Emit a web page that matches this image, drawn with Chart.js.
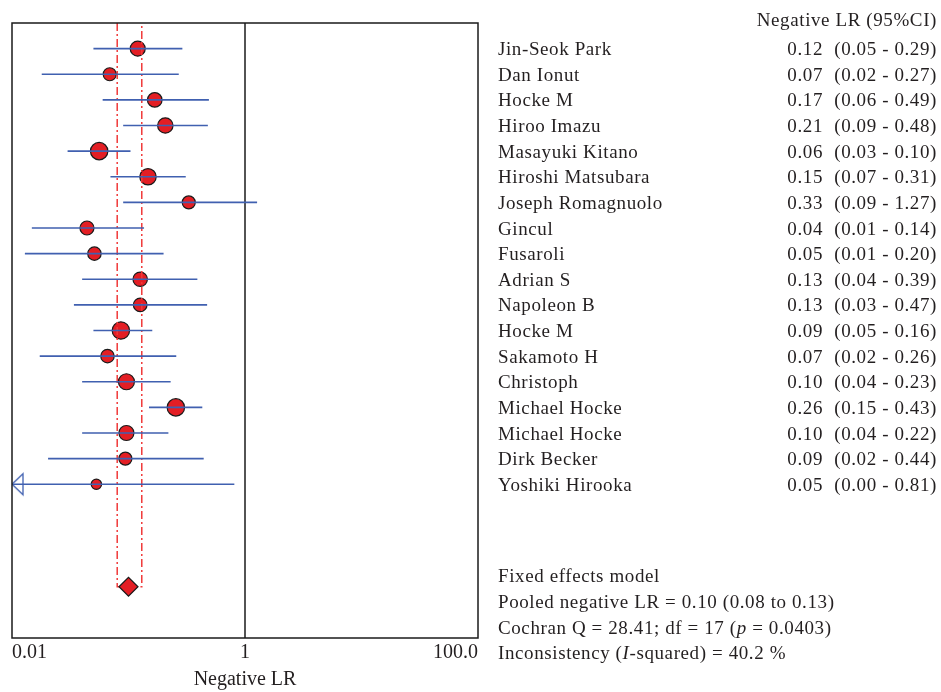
<!DOCTYPE html>
<html>
<head>
<meta charset="utf-8">
<script src="https://cdn.jsdelivr.net/npm/chart.js@4.4.1/dist/chart.umd.min.js"></script>
<style>
  html, body { margin: 0; padding: 0; background: #ffffff; }
  #wrap { width: 941px; height: 692px; }
</style>
</head>
<body>
<div id="wrap"><canvas id="c" width="941" height="692"></canvas></div>
<script>
// ---------------- DATA ----------------
const studies = ["Jin-Seok Park","Dan Ionut","Hocke M","Hiroo Imazu","Masayuki Kitano","Hiroshi Matsubara",
  "Joseph Romagnuolo","Gincul","Fusaroli","Adrian S","Napoleon B","Hocke M","Sakamoto H","Christoph",
  "Michael Hocke","Michael Hocke","Dirk Becker","Yoshiki Hirooka"];
const estimate = [0.12,0.069,0.168,0.207,0.056,0.147,0.329,0.044,0.051,0.126,0.126,0.086,0.066,0.096,0.255,0.096,0.094,0.053];
const lower    = [0.05,0.018,0.06,0.09,0.030,0.07,0.09,0.0148,0.0129,0.04,0.034,0.05,0.0173,0.04,0.15,0.04,0.0204,0.004];
const upper    = [0.29,0.27,0.49,0.48,0.104,0.31,1.27,0.136,0.20,0.39,0.473,0.16,0.257,0.23,0.43,0.22,0.442,0.81];
const studyWeights = [7.5,6.5,7.3,7.7,8.7,8.2,6.5,7.0,6.7,7.2,6.8,8.7,6.7,8.0,8.7,7.5,6.5,5.2];
const pooledEst = 0.10, pooledLo = 0.08, pooledHi = 0.13;
const tickValues = [0.01, 1, 100];
const tickLabels = ["0.01", "1", "100.0"];
const xMin = 0.01, xMax = 100;
const header = "Negative LR (95%CI)";
const statLines = [
  [["Fixed effects model", false]],
  [["Pooled negative LR = 0.10 (0.08 to 0.13)", false]],
  [["Cochran Q = 28.41; df = 17 (", false], ["p", true], [" = 0.0403)", false]],
  [["Inconsistency (", false], ["I", true], ["-squared) = 40.2 %", false]]
];

// ---------------- STYLE ----------------
const FONT = '"Liberation Serif", "Times New Roman", serif';
const FS = 19;
const AXFS = 20;
const TXT = '#231f20';
const pooledRow = studies.length + 4;   // diamond row
const yMax = studies.length + 6;

// CI segments
const ciData = [];
studies.forEach((s, i) => {
  ciData.push({x: lower[i], y: i + 1});
  ciData.push({x: upper[i], y: i + 1});
  ciData.push({x: null, y: null});
});
// arrows for CIs truncated by the axis minimum
const arrowData = [];
studies.forEach((s, i) => { if (lower[i] < xMin) arrowData.push({x: xMin, y: i + 1}); });

const arrowImg = document.createElement('canvas');
arrowImg.width = 26; arrowImg.height = 26;
(function () {
  const g = arrowImg.getContext('2d');
  g.beginPath();
  g.moveTo(13, 13); g.lineTo(24, 2.5); g.lineTo(24, 23.5); g.closePath();
  g.fillStyle = '#ffffff'; g.fill();
  g.strokeStyle = '#4060b0'; g.lineWidth = 1.3; g.stroke();
})();

const framePlugin = {
  id: 'frame',
  beforeDatasetsDraw(chart) {
    const {ctx, chartArea: a, scales: {x}} = chart;
    ctx.save();
    ctx.strokeStyle = '#1a1a1a';
    ctx.lineWidth = 1.5;
    const x1 = x.getPixelForValue(1);
    ctx.beginPath(); ctx.moveTo(x1, a.top); ctx.lineTo(x1, a.bottom); ctx.stroke();
    ctx.restore();
  },
  afterDraw(chart) {
    const {ctx, chartArea: a, scales: {y}} = chart;
    ctx.save();
    ctx.strokeStyle = '#1a1a1a';
    ctx.lineWidth = 1.5;
    ctx.strokeRect(a.left, a.top, a.right - a.left, a.bottom - a.top);
    ctx.fillStyle = TXT;
    ctx.font = FS + 'px ' + FONT;
    try { ctx.letterSpacing = '0.6px'; } catch (e) {}
    ctx.textBaseline = 'alphabetic';
    const nameX = 498, valRight = 823, ciRight = 937;
    ctx.textAlign = 'right';
    ctx.fillText(header, ciRight, 26);
    studies.forEach((s, i) => {
      const yy = y.getPixelForValue(i + 1) + 6.5;
      ctx.textAlign = 'left';
      ctx.fillText(s, nameX, yy);
      ctx.textAlign = 'right';
      ctx.fillText(estimate[i].toFixed(2), valRight, yy);
      ctx.fillText('(' + lower[i].toFixed(2) + ' - ' + upper[i].toFixed(2) + ')', ciRight, yy);
    });
    ctx.textAlign = 'left';
    const base = [582, 608, 634, 659];
    statLines.forEach((parts, k) => {
      let xx = nameX;
      parts.forEach(([t, it]) => {
        ctx.font = (it ? 'italic ' : '') + FS + 'px ' + FONT;
        ctx.fillText(t, xx, base[k]);
        xx += ctx.measureText(t).width;
      });
    });
    ctx.restore();
  }
};

new Chart(document.getElementById('c'), {
  type: 'scatter',
  data: {
    datasets: [
      { type: 'line', data: ciData, borderColor: '#4060b0', borderWidth: 1.6, pointRadius: 0, spanGaps: false, fill: false },
      { type: 'scatter', data: arrowData, pointStyle: arrowImg, pointRadius: 10 },
      { type: 'scatter', data: [{x: pooledEst, y: pooledRow}], pointStyle: 'rectRot', pointRadius: 9.5,
        backgroundColor: '#e31e24', borderColor: '#1a1a1a', borderWidth: 1.2 },
      { type: 'line', data: [{x: pooledLo, y: 0}, {x: pooledLo, y: pooledRow}, {x: pooledHi, y: pooledRow}, {x: pooledHi, y: 0}],
        borderColor: '#f03a3a', borderWidth: 1.5, borderDash: [8, 3, 2, 3], pointRadius: 0, fill: false, tension: 0 },
      { type: 'scatter', data: estimate.map((v, i) => ({x: v, y: i + 1})),
        pointRadius: studyWeights, backgroundColor: '#e31e24', borderColor: '#1a1a1a', borderWidth: 1.2 }
    ]
  },
  options: {
    responsive: false,
    animation: false,
    layout: { padding: { left: 12, top: 23, right: 463, bottom: 0 } },
    plugins: { legend: { display: false }, tooltip: { enabled: false } },
    scales: {
      x: {
        type: 'logarithmic', min: xMin, max: xMax,
        afterBuildTicks(s) { s.ticks = tickValues.map(v => ({value: v})); },
        grid: { display: false, drawTicks: false },
        border: { display: false },
        ticks: { align: 'inner', padding: 3, color: TXT, font: { family: FONT, size: AXFS },
                 autoSkip: false, maxRotation: 0,
                 callback(v) { const k = tickValues.indexOf(v); return k >= 0 ? tickLabels[k] : ''; } },
        title: { display: true, text: 'Negative LR', color: TXT, font: { family: FONT, size: AXFS }, padding: { top: 0, bottom: 0 } }
      },
      y: { type: 'linear', min: 0, max: yMax, reverse: true, display: false }
    }
  },
  plugins: [framePlugin]
});
</script>
</body>
</html>
